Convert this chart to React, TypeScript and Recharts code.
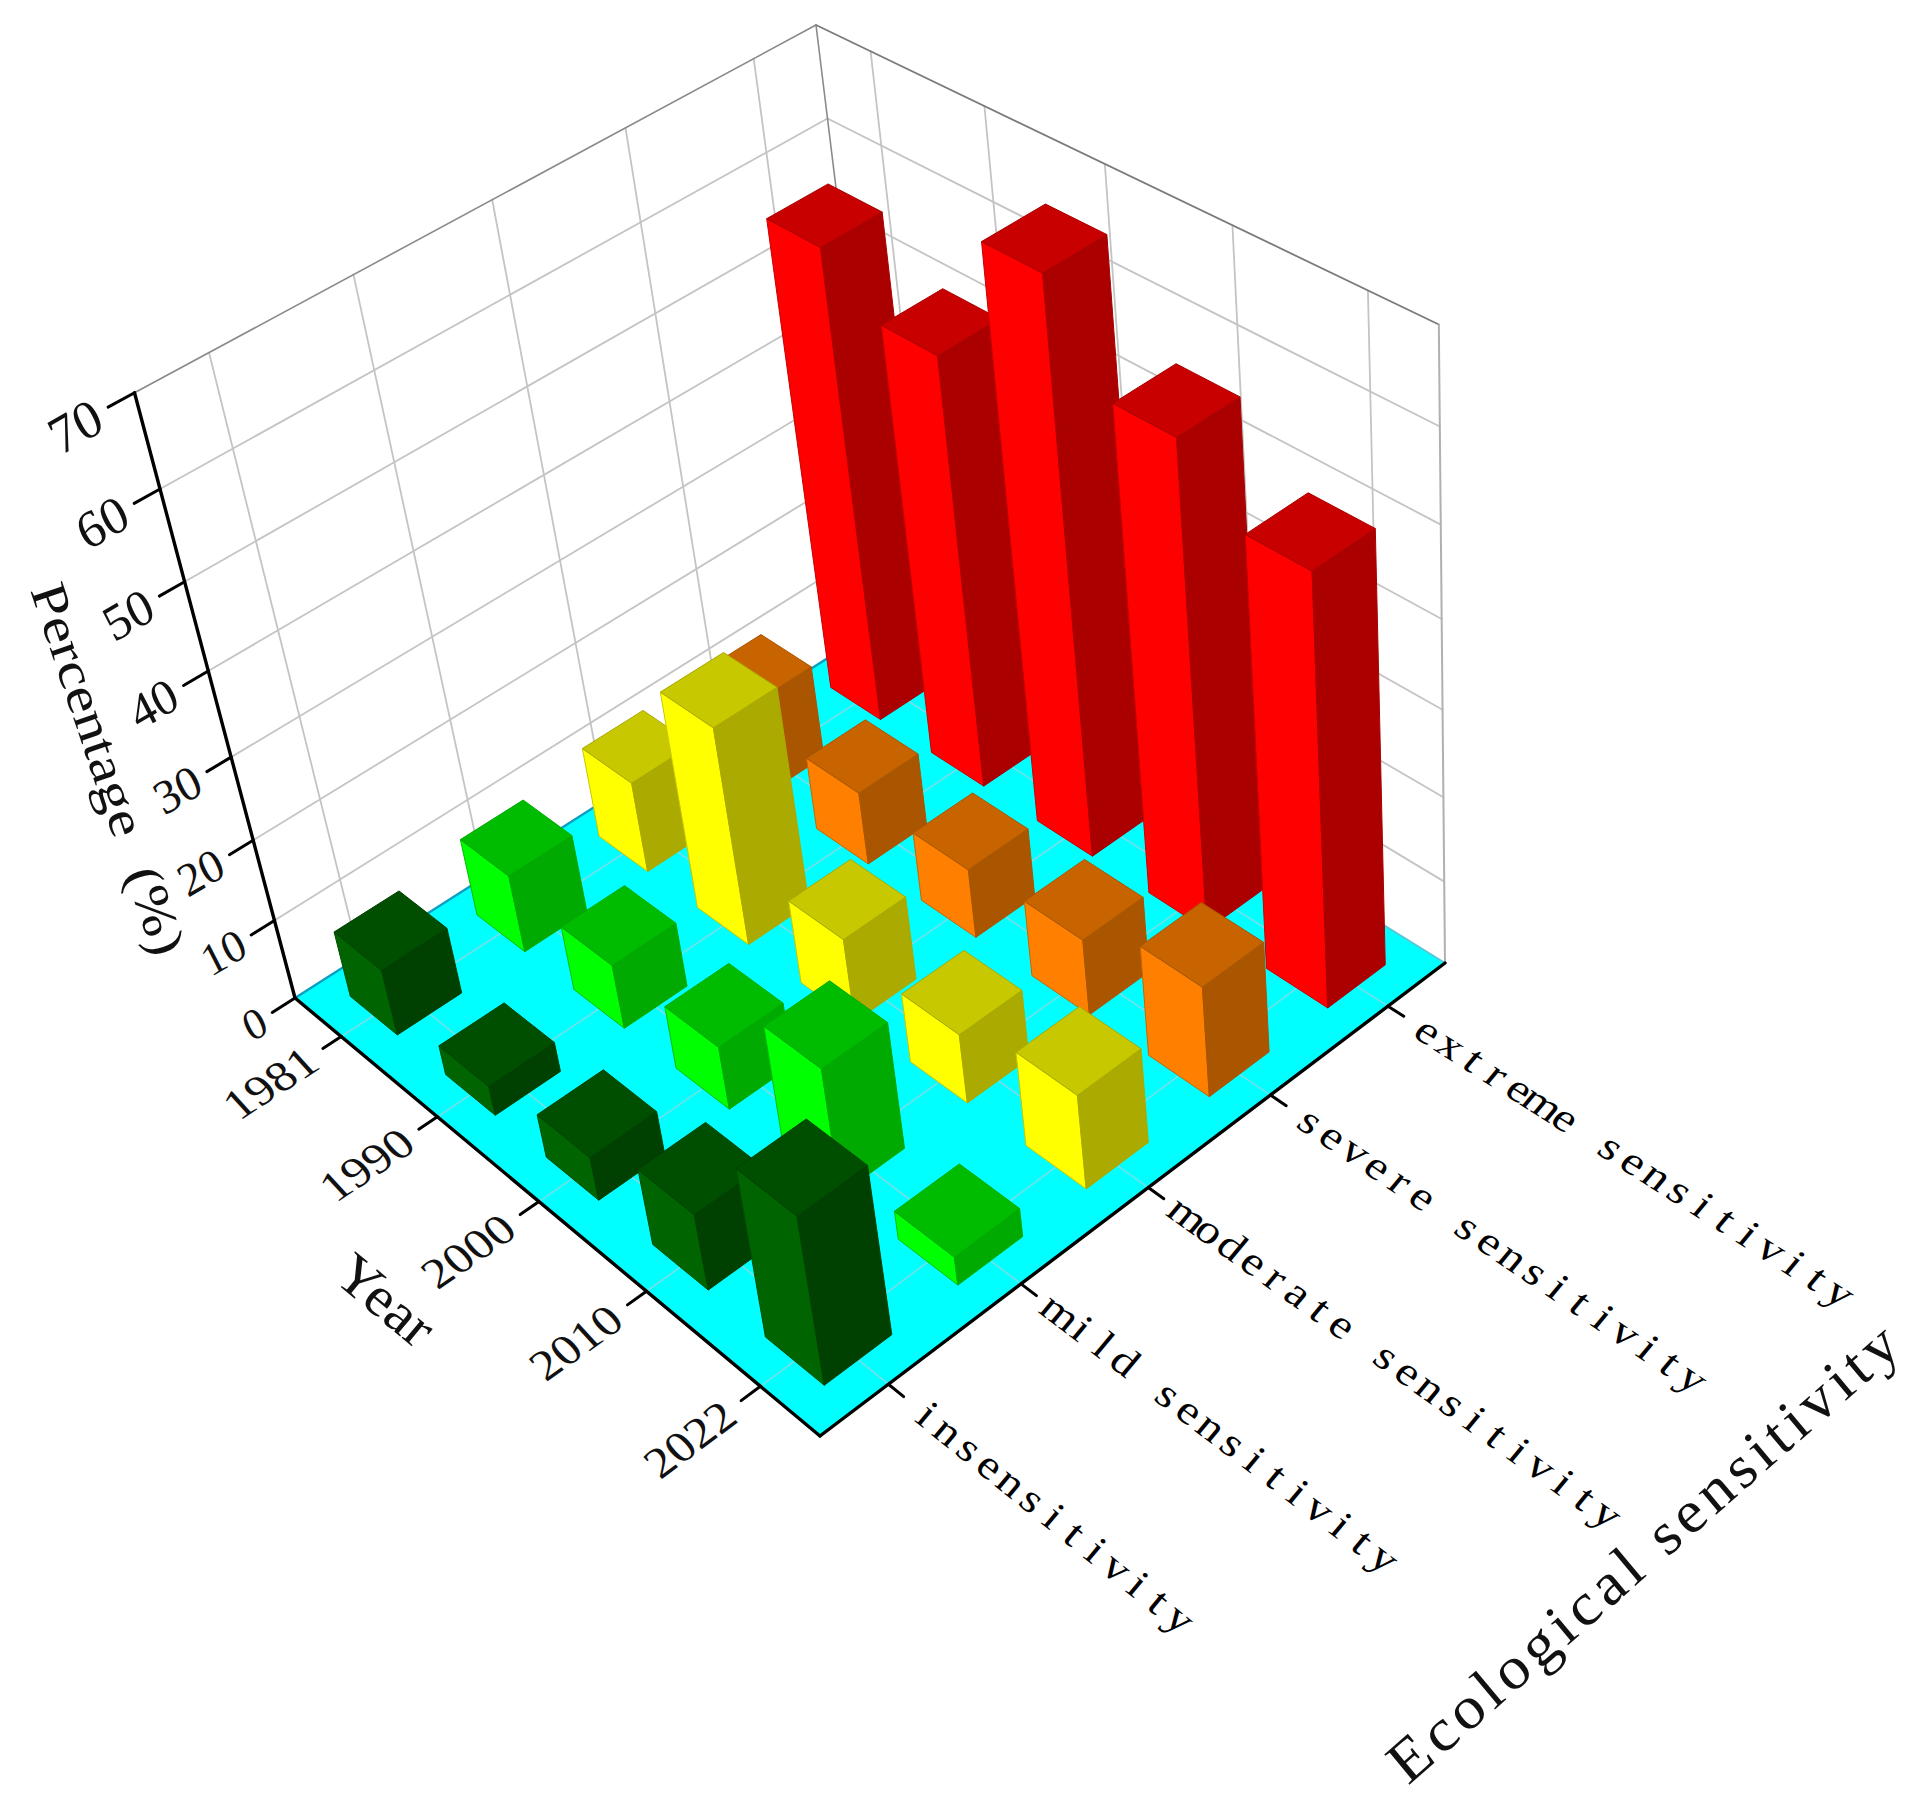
import { ScatterChart, Scatter, XAxis, YAxis } from 'recharts';

const years = ['1981', '1990', '2000', '2010', '2022'];
const categories = ['insensitivity', 'mild sensitivity', 'moderate sensitivity', 'severe sensitivity', 'extreme sensitivity'];
const percentTicks = [0, 10, 20, 30, 40, 50, 60, 70];

// one array per sensitivity class, in year order
const insensitivity = [8.3, 3.7, 5.4, 9.4, 20.5];
const mild = [9.7, 8, 7.8, 15.5, 3.5];
const moderate = [11.3, 26.7, 10.3, 8.5, 11.5];
const severe = [11.5, 9, 8.5, 9.3, 13.4];
const extreme = [56.2, 51, 66.3, 56.3, 49.9];
const seriesValues = [insensitivity, mild, moderate, severe, extreme];

// left face, right face, top face
const palette = [
  ['#006400', '#004000', '#004E00'],
  ['#00FF00', '#00AA00', '#00BC00'],
  ['#FFFF00', '#AAAA00', '#C8C800'],
  ['#FF8000', '#AA5500', '#C86400'],
  ['#FF0000', '#AA0000', '#C80000'],
];

const W = 1914;
const H = 1800;
const Z_MAX = 70;
const BAR_HALF = 0.05;
const CELL = 27.1; // label characters sit in even cells

// box corners on the page, used to build the perspective
const O = [889, 619];
const U = [295, 998];
const V = [1445, 963];
const F = [820, 1436];
const T = [816, 25];
const VANISH_Y = 5500; // verticals meet far below the page

const det = (U[0] - F[0]) * (V[1] - F[1]) - (V[0] - F[0]) * (U[1] - F[1]);
const rx = F[0] + O[0] - U[0] - V[0];
const ry = F[1] + O[1] - U[1] - V[1];
const alpha = (rx * (V[1] - F[1]) - (V[0] - F[0]) * ry) / det;
const beta = ((U[0] - F[0]) * ry - rx * (U[1] - F[1])) / det;
const gamma = (T[1] - O[1]) / (VANISH_Y - T[1]);

const project = (u: number, v: number, w: number) => {
  const d = 1 + alpha * u + beta * v + gamma * w;
  const x = O[0] + u * ((1 + alpha) * U[0] - O[0]) + v * ((1 + beta) * V[0] - O[0]) + w * ((1 + gamma) * T[0] - O[0]);
  const y = O[1] + u * ((1 + alpha) * U[1] - O[1]) + v * ((1 + beta) * V[1] - O[1]) + w * ((1 + gamma) * T[1] - O[1]);
  return [x / d, y / d];
};

const yearPos = (i: number) => (i + 0.5) / years.length;
const catPos = (c: number) => 1 - (c + 0.5) / categories.length;
const zPos = (val: number) => val / Z_MAX;

const seg = (a: number[], b: number[], stroke: string, width: number) => ({
  x: a[0], y: a[1], x2: b[0], y2: b[1], stroke, width,
});

// unit direction between two projected points
const dir = (a: number[], b: number[]) => {
  const len = Math.hypot(b[0] - a[0], b[1] - a[1]);
  return [(b[0] - a[0]) / len, (b[1] - a[1]) / len];
};

// walls and floor lines
const gridColor = '#c4c4c4';
const floorLine = '#74dfe6';
const wallLines = [
  ...percentTicks.slice(1, -1).flatMap((t) => [
    seg(project(1, 0, zPos(t)), project(0, 0, zPos(t)), gridColor, 1.8),
    seg(project(0, 0, zPos(t)), project(0, 1, zPos(t)), gridColor, 1.8),
  ]),
  ...categories.map((_, c) => seg(project(catPos(c), 0, 0), project(catPos(c), 0, 1), gridColor, 1.8)),
  ...years.map((_, i) => seg(project(0, yearPos(i), 0), project(0, yearPos(i), 1), gridColor, 1.8)),
  seg(project(1, 0, 1), project(0, 0, 1), '#8a8a8a', 1.6),
  seg(project(0, 0, 1), project(0, 1, 1), '#7a7a7a', 1.8),
  seg(project(0, 0, 0), project(0, 0, 1), '#8a8a8a', 1.6),
  seg(project(0, 1, 0), project(0, 1, 1), '#b0b0b0', 2),
];
const floorLines = [
  ...categories.map((_, c) => seg(project(catPos(c), 0, 0), project(catPos(c), 1, 0), floorLine, 1.6)),
  ...years.map((_, i) => seg(project(0, yearPos(i), 0), project(1, yearPos(i), 0), floorLine, 1.6)),
  seg(project(1, 0, 0), project(0, 0, 0), '#0b9fc4', 2.4),
  seg(project(0, 0, 0), project(0, 1, 0), '#58c8d8', 2),
];
const axisLines = [
  seg(project(1, 0, 0), project(1, 0, 1), '#000', 3.4),
  seg(project(1, 0, 0), project(1, 1, 0), '#000', 3.4),
  seg(project(1, 1, 0), project(0, 1, 0), '#000', 3.4),
  ...percentTicks.map((t) => seg(project(1, 0, zPos(t)), project(1.035, 0, zPos(t)), '#000', 3)),
  ...years.map((_, i) => seg(project(1, yearPos(i), 0), project(1.028, yearPos(i), 0), '#000', 3)),
  ...categories.map((_, c) => seg(project(catPos(c), 1, 0), project(catPos(c), 1.025, 0), '#000', 3)),
];

const floorData = [{ x: project(0, 0, 0)[0], y: project(0, 0, 0)[1] }];

const bars = seriesValues
  .flatMap((values, c) =>
    values.map((value, i) => {
      const u = catPos(c);
      const v = yearPos(i);
      const [x, y] = project(u, v, 0);
      return { x, y, u, v, value, colors: palette[c] };
    })
  )
  .sort((a, b) => a.u + a.v - (b.u + b.v));

const yearLabels = years.map((text, i) => {
  const [x, y] = project(1.045, yearPos(i), 0);
  return { x, y, text, d: dir(project(1, yearPos(i), 0), project(0.7, yearPos(i), 0)) };
});
const categoryLabels = categories.map((text, c) => {
  const [x, y] = project(catPos(c), 1.045, 0);
  return { x, y, text, d: dir(project(catPos(c), 1, 0), project(catPos(c), 1.3, 0)) };
});
const percentLabels = percentTicks.map((t) => {
  const [x, y] = project(1.048, 0, zPos(t));
  return { x, y, text: String(t), size: 44 + (t / Z_MAX) * 10 };
});

const pts = (list: number[][]) => list.map((p) => p.join(',')).join(' ');

const Segment = (props: any) => {
  const { cx, cy, payload } = props;
  return (
    <line
      x1={cx}
      y1={cy}
      x2={cx + payload.x2 - payload.x}
      y2={cy + payload.y2 - payload.y}
      stroke={payload.stroke}
      strokeWidth={payload.width}
      strokeLinecap="round"
    />
  );
};

const Floor = () => (
  <polygon
    points={pts([project(0, 0, 0), project(1, 0, 0), project(1, 1, 0), project(0, 1, 0)])}
    fill="#00FFFF"
  />
);

// cuboid standing on its floor position, height from the value
const Cuboid = (props: any) => {
  const { u, v, value, colors } = props.payload;
  const w = zPos(value);
  const uo = u + BAR_HALF;
  const ui = u - BAR_HALF;
  const vo = v + BAR_HALF;
  const vi = v - BAR_HALF;
  const edge = { strokeWidth: 1, strokeLinejoin: 'round' as const };
  return (
    <g>
      <polygon
        points={pts([project(uo, vi, 0), project(uo, vo, 0), project(uo, vo, w), project(uo, vi, w)])}
        fill={colors[0]}
        stroke={colors[2]}
        {...edge}
      />
      <polygon
        points={pts([project(uo, vo, 0), project(ui, vo, 0), project(ui, vo, w), project(uo, vo, w)])}
        fill={colors[1]}
        stroke={colors[1]}
        {...edge}
      />
      <polygon
        points={pts([project(uo, vi, w), project(uo, vo, w), project(ui, vo, w), project(ui, vi, w)])}
        fill={colors[2]}
        stroke={colors[1]}
        {...edge}
      />
    </g>
  );
};

const serif = '"Liberation Serif", serif';

const YearLabel = (props: any) => {
  const { d, text } = props.payload;
  return (
    <text
      transform={`matrix(${d[0] * 1.08} ${d[1] * 1.08} 0.66 0.72 ${props.cx} ${props.cy})`}
      textAnchor="end"
      dy="0.35em"
      fontFamily={serif}
      fontSize={46}
      fill="#111"
    >
      {text}
    </text>
  );
};

const CategoryLabel = (props: any) => {
  const { d, text } = props.payload;
  const cells = Array.from(text as string).map((_, i) => (i + 0.5) * CELL).join(' ');
  return (
    <text
      transform={`matrix(${d[0]} ${d[1]} -0.55 0.66 ${props.cx} ${props.cy})`}
      x={cells}
      textAnchor="middle"
      dy="0.3em"
      fontFamily={serif}
      fontSize={48}
      fill="#000"
    >
      {text}
    </text>
  );
};

const PercentLabel = (props: any) => (
  <text
    transform={`matrix(0.86 -0.5 0.45 0.88 ${props.cx} ${props.cy})`}
    textAnchor="end"
    dy="0.35em"
    fontFamily={serif}
    fontSize={props.payload.size}
    fill="#111"
  >
    {props.payload.text}
  </text>
);

const titles = [
  { x: 30, y: 590, text: 'Percentage (%)', m: '0.32 0.95 -0.8 0.27', size: 60, gap: 20 },
  { x: 331, y: 1279, text: 'Year', m: '0.77 0.64 -0.6 0.72', size: 60 },
  { x: 1408, y: 1786, text: 'Ecological sensitivity', m: '0.75 -0.66 0.6 0.72', size: 64, length: 660 },
];

const AxisTitle = (props: any) => {
  const { text, m, length, size, gap } = props.payload;
  return (
    <text
      transform={`matrix(${m} ${props.cx} ${props.cy})`}
      textLength={length}
      lengthAdjust={length ? 'spacing' : undefined}
      wordSpacing={gap}
      fontFamily={serif}
      fontSize={size}
      fill="#111"
    >
      {text}
    </text>
  );
};

export default function App() {
  return (
    <div style={{ position: 'absolute', left: 0, top: 0, width: W, height: H, background: '#fff' }}>
      <ScatterChart width={W} height={H} margin={{ top: 0, right: 0, bottom: 0, left: 0 }}>
        <XAxis type="number" dataKey="x" domain={[0, W]} hide />
        <YAxis type="number" dataKey="y" domain={[0, H]} reversed hide />
        <Scatter data={floorData} shape={<Floor />} isAnimationActive={false} />
        <Scatter data={wallLines} shape={<Segment />} isAnimationActive={false} />
        <Scatter data={floorLines} shape={<Segment />} isAnimationActive={false} />
        <Scatter data={axisLines} shape={<Segment />} isAnimationActive={false} />
        <Scatter data={bars} shape={<Cuboid />} isAnimationActive={false} />
        <Scatter data={yearLabels} shape={<YearLabel />} isAnimationActive={false} />
        <Scatter data={categoryLabels} shape={<CategoryLabel />} isAnimationActive={false} />
        <Scatter data={percentLabels} shape={<PercentLabel />} isAnimationActive={false} />
        <Scatter data={titles} shape={<AxisTitle />} isAnimationActive={false} />
      </ScatterChart>
    </div>
  );
}
